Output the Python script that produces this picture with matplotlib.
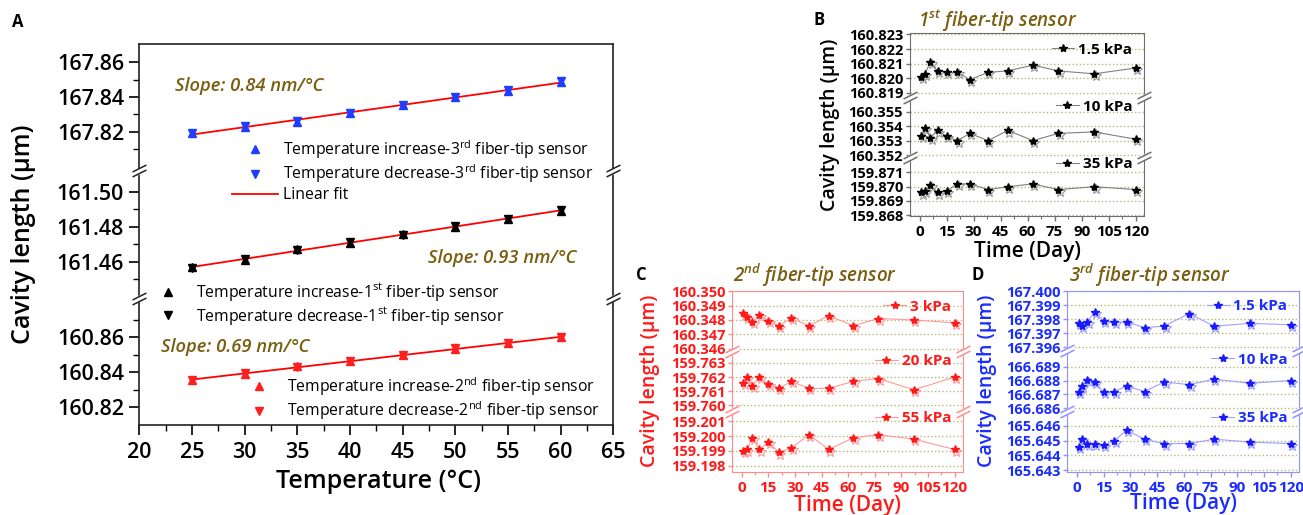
import matplotlib
matplotlib.use("Agg")
import matplotlib.pyplot as plt
import matplotlib.ticker as ticker
from matplotlib.lines import Line2D
from matplotlib.transforms import offset_copy
import numpy as np

plt.rcParams['font.family'] = ['Open Sans', 'DejaVu Sans']
plt.rcParams['mathtext.default'] = 'regular'

W, H = 1303, 515
OLIVE = '#7a5e10'

# ---------------- panel A data (temperature sweep) ----------------
temp = [25, 30, 35, 40, 45, 50, 55, 60]
s3_inc = [167.8194, 167.8230, 167.8259, 167.8309, 167.8352, 167.8400, 167.8435, 167.8488]
s3_dec = [167.8192, 167.8232, 167.8262, 167.8306, 167.8355, 167.8398, 167.8438, 167.8490]
s1_inc = [161.4569, 161.4614, 161.4672, 161.4710, 161.4759, 161.4801, 161.4846, 161.4894]
s1_dec = [161.4566, 161.4617, 161.4669, 161.4713, 161.4756, 161.4804, 161.4843, 161.4897]
s2_inc = [160.8358, 160.8391, 160.8434, 160.8463, 160.8500, 160.8534, 160.8568, 160.8603]
s2_dec = [160.8355, 160.8394, 160.8431, 160.8466, 160.8497, 160.8537, 160.8565, 160.8600]

a_ticks = [[167.82, 167.84, 167.86], [161.46, 161.48, 161.50], [160.82, 160.84, 160.86]]
a_minor = [[167.81, 167.83, 167.85], [161.45, 161.47, 161.49], [160.83, 160.85, 160.87]]
a_ylims = [(167.7977, 167.8703), (161.4394, 161.5120), (160.8099, 160.8825)]

# ---------------- panels B-D data (long-term stability) ----------------
days = [1, 3, 6, 10, 15, 21, 28, 38, 49, 63, 77, 97, 120]

b_15 = [160.8201, 160.8203, 160.8211, 160.8205, 160.8204, 160.8204, 160.8199,
        160.8204, 160.8205, 160.8209, 160.8205, 160.8203, 160.8207]
b_10 = [160.3533, 160.3539, 160.3532, 160.3537, 160.3533, 160.3530, 160.3535,
        160.3530, 160.3537, 160.3530, 160.3535, 160.3536, 160.3531]
b_35 = [159.8696, 159.8697, 159.8701, 159.8696, 159.8697, 159.8702, 159.8702,
        159.8698, 159.8700, 159.8702, 159.8698, 159.8700, 159.8698]

c_3 = [160.34845, 160.34818, 160.34784, 160.34834, 160.34790, 160.34761, 160.34811,
       160.34760, 160.34830, 160.34760, 160.34810, 160.34800, 160.34780]
c_20 = [159.7616, 159.7620, 159.7614, 159.7620, 159.7615, 159.7612, 159.7617,
        159.7612, 159.7612, 159.7617, 159.7619, 159.7611, 159.7620]
c_55 = [159.1990, 159.1991, 159.1999, 159.1991, 159.1996, 159.1989, 159.1992,
        159.2001, 159.1991, 159.1999, 159.2001, 159.1998, 159.1991]

d_15 = [167.3977, 167.3975, 167.3978, 167.39854, 167.3979, 167.3978, 167.3978,
        167.3974, 167.3975, 167.3984, 167.3975, 167.3977, 167.3976]
d_10 = [166.6872, 166.6876, 166.68805, 166.6879, 166.68715, 166.6872, 166.6876,
        166.6872, 166.6879, 166.6877, 166.6881, 166.6878, 166.6880]
d_35 = [165.6446, 165.6451, 165.6448, 165.6448, 165.6447, 165.6450, 165.6457,
        165.6451, 165.6448, 165.6448, 165.6451, 165.6449, 165.6448]

b_ticks = [[160.819, 160.820, 160.821, 160.822, 160.823],
           [160.352, 160.353, 160.354, 160.355],
           [159.868, 159.869, 159.870, 159.871]]
c_ticks = [[160.346, 160.347, 160.348, 160.349, 160.350],
           [159.760, 159.761, 159.762, 159.763],
           [159.198, 159.199, 159.200, 159.201]]
d_ticks = [[167.396, 167.397, 167.398, 167.399, 167.400],
           [166.686, 166.687, 166.688, 166.689],
           [165.643, 165.644, 165.645, 165.646]]
b_ylims = [(160.81871, 160.82310), (160.35187, 160.35601), (159.86795, 159.87208)]
c_ylims = [(160.3458, 160.35003), (159.7596, 159.7638), (159.1976, 159.2017)]
d_ylims = [(167.3958, 167.40003), (166.6858, 166.6902), (165.6429, 165.6470)]
day_ticks = [0, 15, 30, 45, 60, 75, 90, 105, 120]

fig = plt.figure(figsize=(W / 100, H / 100), dpi=100)


def px_axes(left, top, right, bottom):
    return fig.add_axes([left / W, 1 - bottom / H, (right - left) / W, (bottom - top) / H])


slash = [(-1, -0.5), (1, 0.5)]


def break_mark(xpx, ypx, color):
    x, y = xpx / W, 1 - ypx / H
    fig.add_artist(Line2D([x], [y], transform=fig.transFigure, marker=slash, ms=10,
                          mew=4, mec='white', ls='none', zorder=5))
    for dy in (-2.5, 2.5):
        tr = offset_copy(fig.transFigure, fig=fig, x=0, y=dy, units='dots')
        fig.add_artist(Line2D([x], [y], transform=tr, marker=slash, ms=10, mew=1.1,
                              mec=color, ls='none', zorder=6))


def broken_panel(left, right, bounds, spine_color):
    axs = []
    for i in range(3):
        ax = px_axes(left, bounds[i], right, bounds[i + 1])
        ax.patch.set_visible(False)
        for s in ax.spines.values():
            s.set_color(spine_color)
        if i > 0:
            ax.spines['top'].set_visible(False)
        if i < 2:
            ax.spines['bottom'].set_visible(False)
            ax.tick_params(axis='x', which='both', bottom=False, labelbottom=False)
        axs.append(ax)
    for yb in bounds[1:3]:
        break_mark(left, yb, spine_color)
        break_mark(right, yb, spine_color)
    return axs


# ======================= panel A =======================
A_left, A_right = 139.3, 613.3
A_bounds = [44, 171, 298, 425]
axA = broken_panel(A_left, A_right, A_bounds, '#222222')
groups = [(s3_inc, s3_dec, '#1f3dff'), (s1_inc, s1_dec, 'black'), (s2_inc, s2_dec, '#ff1f1f')]
for i, ax in enumerate(axA):
    inc, dec, col = groups[i]
    fit = np.polyfit(temp * 2, inc + dec, 1)
    ax.plot(temp, np.polyval(fit, temp), color='red', lw=1.3, zorder=2)
    ax.plot(temp, inc, ls='none', marker='^', ms=6, color=col, mec=col, zorder=3)
    ax.plot(temp, dec, ls='none', marker='v', ms=6, color=col, mec=col, zorder=3)
    ax.set_xlim(20, 65)
    ax.set_ylim(*a_ylims[i])
    ax.yaxis.set_major_locator(ticker.FixedLocator(a_ticks[i]))
    ax.yaxis.set_minor_locator(ticker.FixedLocator(a_minor[i]))
    ax.yaxis.set_major_formatter(ticker.FormatStrFormatter('%.2f'))
    ax.tick_params(axis='y', which='major', length=7, width=1.2, labelsize=15.5, pad=4)
    ax.tick_params(axis='y', which='minor', length=4, width=1.0)
    for s in ax.spines.values():
        s.set_linewidth(1.2)
    for lab in ax.get_yticklabels():
        lab.set_fontweight('semibold')
axA[2].xaxis.set_major_locator(ticker.MultipleLocator(5))
axA[2].xaxis.set_minor_locator(ticker.MultipleLocator(2.5))
axA[2].tick_params(axis='x', which='major', length=7, width=1.2, labelsize=15.5, pad=5)
axA[2].tick_params(axis='x', which='minor', length=4, width=1.0)
for lab in axA[2].get_xticklabels():
    lab.set_fontweight('semibold')

fig.text(24 / W, 1 - 234.5 / H, 'Cavity length (µm)', rotation=90, ha='center', va='center',
         fontsize=18, fontweight='semibold')
fig.text(378 / W, 1 - 482 / H, 'Temperature (°C)', ha='center', va='center',
         fontsize=18, fontweight='semibold')
fig.text(18 / W, 1 - 22 / H, 'A', ha='center', va='center', fontsize=12, fontweight='bold')

slope_kw = dict(fontsize=13.2, fontweight='semibold', fontstyle='italic', color=OLIVE,
                va='center')
fig.text(175 / W, 1 - 86 / H, 'Slope: 0.84 nm/°C', **slope_kw)
fig.text(428 / W, 1 - 258 / H, 'Slope: 0.93 nm/°C', **slope_kw)
fig.text(161 / W, 1 - 347 / H, 'Slope: 0.69 nm/°C', **slope_kw)


def tri_handles(col):
    up = Line2D([], [], ls='none', marker='^', ms=6, color=col)
    dn = Line2D([], [], ls='none', marker='v', ms=6, color=col)
    return [up, dn]


leg_kw = dict(loc='upper left', frameon=False, borderpad=0, borderaxespad=0,
              handlelength=2.9, handletextpad=0.35, labelspacing=0.12,
              prop={'size': 11.3, 'weight': 'medium'})
h3 = tri_handles('#1f3dff') + [Line2D([], [], color='red', lw=1.3)]
fig.legend(h3, ['Temperature increase-3$^{rd}$ fiber-tip sensor',
                'Temperature decrease-3$^{rd}$ fiber-tip sensor', 'Linear fit'],
           bbox_to_anchor=(232 / W, 1 - 138 / H), **leg_kw)
fig.legend(tri_handles('black'), ['Temperature increase-1$^{st}$ fiber-tip sensor',
                                  'Temperature decrease-1$^{st}$ fiber-tip sensor'],
           bbox_to_anchor=(145 / W, 1 - 281 / H), **leg_kw)
fig.legend(tri_handles('#ff1f1f'), ['Temperature increase-2$^{nd}$ fiber-tip sensor',
                                    'Temperature decrease-2$^{nd}$ fiber-tip sensor'],
           bbox_to_anchor=(236 / W, 1 - 375 / H), **leg_kw)

# ======================= panels B-D =======================
stab = [
    dict(left=910, right=1144, bounds=[33, 97, 157, 216], series=[b_15, b_10, b_35],
         labels=['1.5 kPa', '10 kPa', '35 kPa'], ylims=b_ylims, ticks=b_ticks,
         dark='black', light='#9a9a9a', line='#808080', spine='#6e6e6e', txt='black',
         tag='B', tag_xy=(819, 20), title='1$^{st}$ fiber-tip sensor', title_xy=(918, 21),
         ylab_x=830, xlab_y=252),
    dict(left=732.3, right=962.7, bounds=[290.7, 351.7, 411, 471.7], series=[c_3, c_20, c_55],
         labels=['3 kPa', '20 kPa', '55 kPa'], ylims=c_ylims, ticks=c_ticks,
         dark='#ff1a1a', light='#ff9a9a', line='#ff9a9a', spine='#ff8c8c', txt='#ff1a1a',
         tag='C', tag_xy=(641, 275), title='2$^{nd}$ fiber-tip sensor', title_xy=(733, 275),
         ylab_x=650, xlab_y=505),
    dict(left=1067.3, right=1299, bounds=[290.7, 350, 411, 471.7], series=[d_15, d_10, d_35],
         labels=['1.5 kPa', '10 kPa', '35 kPa'], ylims=d_ylims, ticks=d_ticks,
         dark='#1a1aff', light='#9a9aff', line='#a0a0ff', spine='#9090ff', txt='#1a2cff',
         tag='D', tag_xy=(978, 275), title='3$^{rd}$ fiber-tip sensor', title_xy=(1069, 275),
         ylab_x=987, xlab_y=504),
]
leg_y = [0.74, 0.84, 0.88]

for p in stab:
    axs = broken_panel(p['left'], p['right'], p['bounds'], p['spine'])
    for i, ax in enumerate(axs):
        vals = p['series'][i]
        ghost = offset_copy(ax.transData, fig=fig, x=1.0, y=-1.5, units='points')
        ax.plot(days, vals, ls='none', marker='*', ms=7, mfc='white', mec=p['light'],
                mew=0.8, transform=ghost, zorder=3)
        ln, = ax.plot(days, vals, color=p['line'], lw=0.8, marker='*', ms=6,
                      mfc=p['dark'], mec=p['dark'], zorder=4)
        ax.set_xlim(-5.3, 124.6)
        ax.set_ylim(*p['ylims'][i])
        ax.yaxis.set_major_locator(ticker.FixedLocator(p['ticks'][i]))
        ax.yaxis.set_major_formatter(ticker.FormatStrFormatter('%.3f'))
        ax.yaxis.grid(True, ls=':', color='#b8b878', lw=1.0)
        ax.tick_params(axis='y', length=3, width=1, color=p['spine'], labelsize=10.5,
                       labelcolor=p['txt'], pad=2)
        for lab in ax.get_yticklabels():
            lab.set_fontweight('bold')
        ax.legend([ln], [p['labels'][i]], loc='center right', bbox_to_anchor=(0.95, leg_y[i]),
                  frameon=False, borderpad=0, borderaxespad=0, handlelength=1.5,
                  handletextpad=0.25, prop={'size': 11, 'weight': 'bold'},
                  labelcolor=p['txt'])
    axb = axs[2]
    axb.xaxis.set_major_locator(ticker.FixedLocator(day_ticks))
    axb.xaxis.set_minor_locator(ticker.MultipleLocator(7.5))
    axb.tick_params(axis='x', which='major', length=3.5, width=1, color=p['spine'],
                    labelsize=11, labelcolor=p['txt'], pad=3)
    axb.tick_params(axis='x', which='minor', length=2, width=0.8, color=p['spine'])
    for lab in axb.get_xticklabels():
        lab.set_fontweight('bold')
    cy = (p['bounds'][0] + p['bounds'][3]) / 2
    cx = (p['left'] + p['right']) / 2
    fig.text(p['ylab_x'] / W, 1 - cy / H, 'Cavity length (µm)', rotation=90, ha='center',
             va='center', fontsize=14, fontweight='semibold', color=p['txt'])
    fig.text(cx / W, 1 - p['xlab_y'] / H, 'Time (Day)', ha='center', va='center',
             fontsize=15, fontweight='semibold', color=p['txt'])
    fig.text(p['tag_xy'][0] / W, 1 - p['tag_xy'][1] / H, p['tag'], ha='center', va='center',
             fontsize=12, fontweight='bold')
    fig.text(p['title_xy'][0] / W, 1 - p['title_xy'][1] / H, p['title'], ha='left',
             va='center', fontsize=13.5, fontweight='semibold', fontstyle='italic', color=OLIVE)

fig.savefig('out.png', dpi=100)
